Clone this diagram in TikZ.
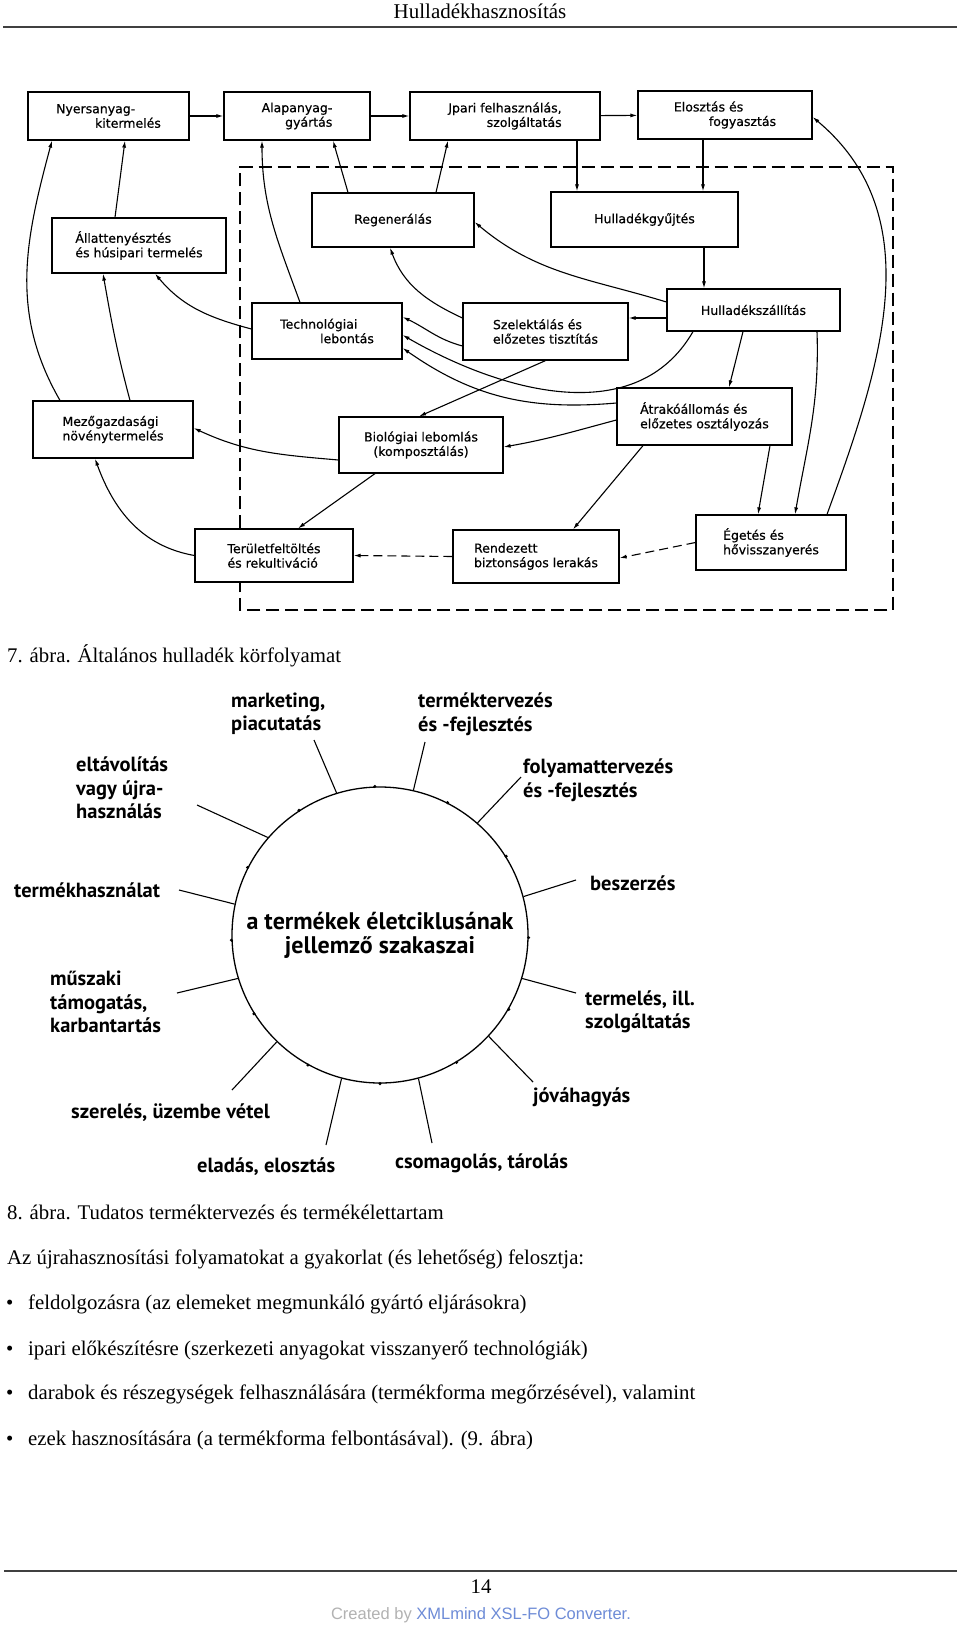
\documentclass[tikz,border=0pt]{standalone}
\usepackage{fontspec}
\setmainfont{Liberation Serif}
\newfontfamily\boxfont{DejaVu Sans}[FakeBold=0.6]
\newfontfamily\phasefont{PT Sans}
\newfontfamily\footfont{Liberation Sans}
\usetikzlibrary{arrows.meta,positioning}
\definecolor{xmlblue}{RGB}{110,140,215}

\begin{document}
\begin{tikzpicture}[x=1pt,y=1pt]
\tikzset{
  blk/.style={draw, line width=1.2pt, inner sep=0pt, align=left,
    font=\boxfont\fontsize{12.5}{14.5}\selectfont},
  flow/.style={-{Latex[length=7pt,width=4pt]}, line width=1.1pt},
  backflow/.style={flow, dash pattern=on 9pt off 5pt},
  frame/.style={line width=1.2pt, dash pattern=on 13pt off 6pt},
  phase/.style={anchor=west, inner sep=0pt, align=left,
    font=\phasefont\bfseries\fontsize{20.5}{23.5}\selectfont},
  tick/.style={line width=1.1pt},
  body/.style={anchor=base west, inner sep=0pt,
    font=\fontsize{20.8}{24}\selectfont},
  rule/.style={line width=1.5pt, black!75}
}
\fill[white] (0,0) rectangle (960,-1625);
\useasboundingbox (0,0) rectangle (960,-1625);

% page head
\node[body, anchor=base] (head) at (480,-18.5) {\fontsize{21}{24}\selectfont Hulladékhasznosítás};
\coordinate (hrl) at (3,-27);
\coordinate (hrr) at (957,-27);
\draw[rule] (hrl) -- (hrr);

% 7. abra: boxes
\node[blk, minimum width=161pt, minimum height=48pt] (nyers) at (108.5,-116) {Nyersanyag-\\\hspace*{39pt}kitermelés};
\node[blk, minimum width=146pt, minimum height=48pt, align=right] (alap) at (297,-116) {Alapanyag-\\gyártás};
\node[blk, minimum width=190pt, minimum height=48pt, align=right] (ipari) at (505,-116) {Jpari felhasználás,\\szolgáltatás};
\node[blk, minimum width=174pt, minimum height=48pt] (eloszt) at (725,-115) {Elosztás és\\\hspace*{35pt}fogyasztás};
\node[blk, minimum width=174pt, minimum height=55pt] (allat) at (139,-245.5) {Állattenyésztés\\és húsipari termelés};
\node[blk, minimum width=162pt, minimum height=54pt] (regen) at (393,-220) {Regenerálás};
\node[blk, minimum width=187pt, minimum height=55pt] (gyujt) at (644.5,-219.5) {Hulladékgyűjtés};
\node[blk, minimum width=150pt, minimum height=56pt] (techn) at (327,-331) {Technológiai\\\hspace*{40pt}lebontás};
\node[blk, minimum width=165pt, minimum height=57pt] (szel) at (545.5,-331.5) {Szelektálás és\\előzetes tisztítás};
\node[blk, minimum width=173pt, minimum height=42pt] (szall) at (753.5,-310) {Hulladékszállítás};
\node[blk, minimum width=160pt, minimum height=57pt] (mezo) at (113,-429.5) {Mezőgazdasági\\növénytermelés};
\node[blk, minimum width=164pt, minimum height=56pt, align=center] (bio) at (421,-445) {Biológiai lebomlás\\(komposztálás)};
\node[blk, minimum width=175pt, minimum height=57pt] (atrako) at (704.5,-416.5) {Átrakóállomás és\\előzetes osztályozás};
\node[blk, minimum width=158pt, minimum height=53pt] (terul) at (274,-555.5) {Területfeltöltés\\és rekultiváció};
\node[blk, minimum width=166pt, minimum height=53pt] (rend) at (536,-556.5) {Rendezett\\biztonságos lerakás};
\node[blk, minimum width=150pt, minimum height=55pt] (eget) at (771,-542.5) {Égetés és\\hővisszanyerés};

% dashed frame
\draw[frame] ([xshift=-34pt]terul.north) -- (240,-167) -- (893,-167) -- (893,-610) -- (240,-610) -- ([xshift=-34pt]terul.south);

% 7. abra: arrows
\draw[flow] (nyers) -- (alap);
\draw[flow] (alap) -- (ipari);
\draw[flow] (ipari) -- (eloszt);
\draw[flow] ([xshift=72pt]ipari.south) -- ([xshift=-67.5pt]gyujt.north);
\draw[flow] ([xshift=-22pt]eloszt.south) -- ([xshift=58.5pt]gyujt.north);
\draw[flow] ([xshift=59.5pt]gyujt.south) -- ([xshift=-49.5pt]szall.north);
\draw[flow] ([yshift=-8pt]szall.west) -- ([yshift=13.5pt]szel.east);
\draw[flow] ([yshift=8pt]szall.west) to[out=163,in=-40] ([yshift=-2pt]regen.east);
\draw[flow] ([xshift=-45pt]regen.north) -- ([xshift=36pt]alap.south);
\draw[flow] ([xshift=43pt]regen.north) -- ([xshift=-57pt]ipari.south);
\draw[flow] ([xshift=-27pt]techn.north) to[out=110,in=-90] ([xshift=-35pt]alap.south);
\draw[flow] ([yshift=2pt]techn.west) to[out=165,in=-50] ([xshift=16pt]allat.south);
\draw[flow] ([yshift=13.5pt]szel.west) to[out=155,in=-70] ([xshift=-3pt]regen.south);
\draw[flow] ([yshift=-14.5pt]szel.west) to[out=165,in=-25] ([yshift=14pt]techn.east);
\draw[flow] ([xshift=-60.5pt]szall.south) to[out=-120,in=-30] ([yshift=-4pt]techn.east);
\draw[flow] ([yshift=13.5pt]atrako.west) to[out=185,in=-35] ([yshift=-17pt]techn.east);
\draw[flow] (szel.south) -- ([xshift=-2pt]bio.north);
\draw[flow] ([yshift=-3.5pt]atrako.west) to[out=195,in=10] ([yshift=-2pt]bio.east);
\draw[flow] ([xshift=-10.5pt]szall.south) -- ([xshift=24.5pt]atrako.north);
\draw[flow] ([xshift=63.5pt]szall.south) to[out=-88,in=80] ([xshift=24pt]eget.north);
\draw[flow] ([xshift=65.5pt]atrako.south) -- ([xshift=-13pt]eget.north);
\draw[flow] ([xshift=56pt]eget.north) to[out=70,in=-40] ([yshift=-2pt]eloszt.east);
\draw[backflow] (eget.west) -- ([yshift=-1.5pt]rend.east);
\draw[flow] ([xshift=-61.5pt]atrako.south) -- ([xshift=37pt]rend.north);
\draw[backflow] (rend.west) -- (terul.east);
\draw[flow] ([xshift=-46pt]bio.south) -- ([xshift=24pt]terul.north);
\draw[flow] ([yshift=-15pt]bio.west) to[out=175,in=-25] ([yshift=1.5pt]mezo.east);
\draw[flow] (terul.west) to[out=170,in=-70] ([xshift=-18pt]mezo.south);
\draw[flow] ([xshift=-53pt]mezo.north) to[out=120,in=-105] ([xshift=-56.5pt]nyers.south);
\draw[flow] ([xshift=17pt]mezo.north) to[out=105,in=-80] ([xshift=-36pt]allat.south);
\draw[flow] ([xshift=-24pt]allat.north) -- ([xshift=16.5pt]nyers.south);

\node[body] (cap7) at (7,-662) {7. ábra. Általános hulladék körfolyamat};

% 8. abra: life cycle
\node[draw, circle, line width=1.3pt, minimum size=296pt, inner sep=0pt, align=center,
  font=\phasefont\bfseries\fontsize{24}{24}\selectfont] (cyc) at (380,-935)
  {a termékek életciklusának\\jellemző szakaszai};
\foreach \a in {-1,32,63,92,123,153,182,212,241,270,301,330}
  \fill (cyc.\a) circle (1.7);

\node[phase] (mark) at (231,-714) {marketing,\\piacutatás};
\node[phase] (tterv) at (418,-714) {terméktervezés\\és -fejlesztés};
\node[phase] (fterv) at (523,-780) {folyamattervezés\\és -fejlesztés};
\node[phase] (beszer) at (590,-883) {beszerzés};
\node[phase] (termel) at (585,-1012) {termelés, ill.\\szolgáltatás};
\node[phase] (jova) at (533,-1097) {jóváhagyás};
\node[phase] (csom) at (395,-1163) {csomagolás, tárolás};
\node[phase] (elad) at (197,-1167) {eladás, elosztás};
\node[phase] (szer) at (71,-1113) {szerelés, üzembe vétel};
\node[phase] (musz) at (50,-1002) {műszaki\\támogatás,\\karbantartás};
\node[phase] (haszn) at (14,-890) {termékhasználat};
\node[phase] (eltav) at (76,-788) {eltávolítás\\vagy újra-\\használás};

\draw[tick] (cyc.107) -- (314,-740);
\draw[tick] (cyc.77) -- (425,-742);
\draw[tick] (cyc.49) -- (521,-777);
\draw[tick] (cyc.15.5) -- (576,-880);
\draw[tick] (cyc.-17) -- (576,-993);
\draw[tick] (cyc.-43) -- (533,-1082);
\draw[tick] (cyc.-75) -- (432,-1143);
\draw[tick] (cyc.-105) -- (326,-1145);
\draw[tick] (cyc.-134) -- (232,-1090);
\draw[tick] (cyc.-163) -- (177,-993);
\draw[tick] (cyc.168) -- (179,-890);
\draw[tick] (cyc.139) -- (197,-805);

\node[body] (cap8) at (7,-1219) {8. ábra. Tudatos terméktervezés és termékélettartam};
\node[body] (intro) at (7,-1264) {Az újrahasznosítási folyamatokat a gyakorlat (és lehetőség) felosztja:};
\foreach \y/\t in {1309/feldolgozásra (az elemeket megmunkáló gyártó eljárásokra),
                   1355/ipari előkészítésre (szerkezeti anyagokat visszanyerő technológiák),
                   1399/{darabok és részegységek felhasználására (termékforma megőrzésével), valamint},
                   1445/ezek hasznosítására (a termékforma felbontásával). (9. ábra)} {
  \node[body] at (6,-\y) {•};
  \node[body] at (28,-\y) {\t};
}

% page foot
\coordinate (frl) at (4,-1571);
\coordinate (frr) at (957,-1571);
\draw[rule] (frl) -- (frr);
\node[body, anchor=base] (pagenum) at (481,-1593) {14};
\node[body, anchor=base, font=\footfont\fontsize{16.5}{20}\selectfont] (made) at (481,-1619)
  {\textcolor{black!30}{Created by} \textcolor{xmlblue}{XMLmind XSL-FO Converter.}};
\end{tikzpicture}
\end{document}
